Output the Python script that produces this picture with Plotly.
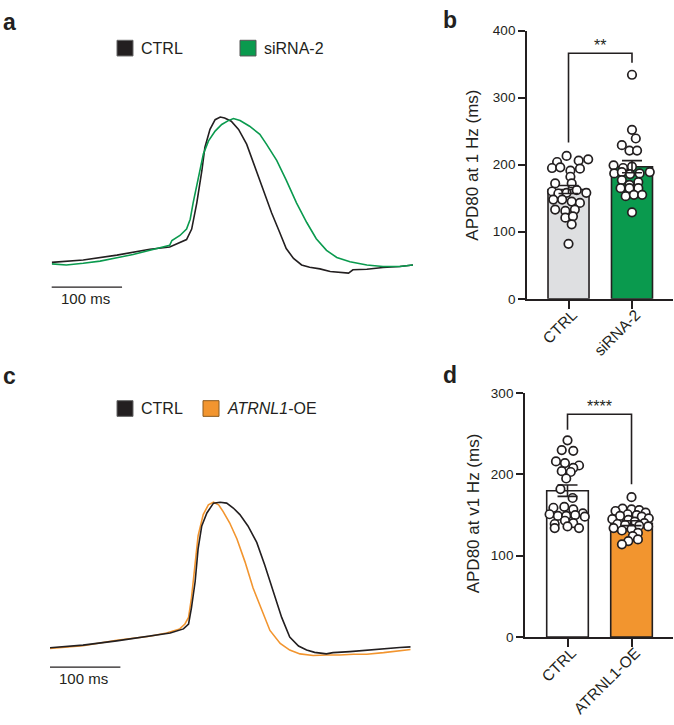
import plotly.graph_objects as go

W, H = 674, 725
FONT = "Liberation Sans, Arial, Helvetica, sans-serif"
BLACK = "#231F20"
GREEN = "#0A9A4E"
ORANGE = "#F2952F"
GRAY = "#DEDFE1"

# ---------------- data ----------------
# Panel a: representative optical AP traces (time in ms, normalized amplitude)
a_ctrl_t = [0, 43, 89, 134, 161, 184, 191, 198, 205, 209, 216, 223, 230, 236, 245, 255, 266, 277, 289, 300,
            311, 320, 330, 341, 352, 366, 380, 393, 405, 411, 430, 452, 475, 493]
a_ctrl_v = [0.069, 0.084, 0.115, 0.153, 0.167, 0.215, 0.282, 0.450, 0.659, 0.805, 0.921, 0.983, 1.0, 0.994,
            0.973, 0.921, 0.826, 0.680, 0.533, 0.387, 0.262, 0.157, 0.094, 0.052, 0.038, 0.027, 0.010, 0.006,
            0.0, 0.021, 0.025, 0.036, 0.042, 0.052]
a_sirna_t = [0, 20, 43, 66, 89, 111, 134, 161, 164, 175, 184, 189, 193, 200, 207, 214, 223, 232, 241, 248,
             257, 270, 284, 293, 307, 320, 334, 348, 361, 375, 389, 407, 430, 452, 475, 493]
a_sirna_v = [0.059, 0.052, 0.063, 0.077, 0.098, 0.119, 0.146, 0.178, 0.209, 0.241, 0.282, 0.345, 0.450, 0.617,
             0.764, 0.847, 0.910, 0.952, 0.977, 0.990, 0.977, 0.941, 0.889, 0.826, 0.722, 0.596, 0.450, 0.324,
             0.220, 0.146, 0.100, 0.073, 0.052, 0.042, 0.042, 0.052]

# Panel c
c_ctrl_t = [0, 45, 91, 136, 164, 182, 189, 193, 198, 202, 207, 214, 223, 232, 241, 250, 259, 270, 282, 293,
            305, 316, 327, 339, 350, 361, 377, 386, 409, 432, 455, 477, 492]
c_ctrl_v = [0.051, 0.068, 0.096, 0.126, 0.147, 0.174, 0.206, 0.313, 0.483, 0.696, 0.845, 0.930, 0.994, 1.0,
            0.994, 0.962, 0.919, 0.845, 0.738, 0.589, 0.419, 0.249, 0.121, 0.062, 0.036, 0.021, 0.011, 0.019,
            0.026, 0.036, 0.045, 0.053, 0.057]
c_oe_t = [0, 45, 91, 114, 136, 159, 177, 184, 189, 193, 198, 202, 209, 216, 223, 230, 236, 245, 255, 266,
          277, 289, 300, 314, 327, 341, 359, 377, 395, 414, 432, 455, 477, 492]
c_oe_v = [0.047, 0.064, 0.100, 0.111, 0.126, 0.147, 0.174, 0.206, 0.249, 0.377, 0.611, 0.781, 0.919, 0.983,
          1.0, 0.983, 0.940, 0.866, 0.760, 0.611, 0.440, 0.291, 0.164, 0.079, 0.036, 0.011, 0.0, 0.004, 0.004,
          0.009, 0.009, 0.019, 0.030, 0.040]
scale_bar_ms = 100

# Panel b: APD80 at 1 Hz (ms)
b_categories = ["CTRL", "siRNA-2"]
b_means = [163, 197]
b_sem = [6, 9]
b_ctrl = [204, 213, 206, 208, 195, 196, 191, 194, 182, 172, 172, 160, 157, 158, 162, 158, 148, 148, 145, 143,
          133, 131, 133, 121, 123, 111, 82]
b_ctrl_jit = [-0.18, -0.03, 0.16, 0.31, -0.26, -0.13, 0.03, 0.18, 0.03, -0.21, 0.05, -0.26, -0.16, -0.03, 0.13,
              0.28, -0.24, -0.10, 0.05, 0.18, -0.21, -0.05, 0.10, -0.05, 0.07, 0.05, 0.0]
b_sirna = [334, 252, 239, 229, 221, 221, 199, 195, 197, 187, 189, 186, 187, 189, 177, 170, 174, 165, 165, 165,
           153, 155, 155, 129]
b_sirna_jit = [0.0, 0.0, 0.06, -0.16, -0.04, 0.08, -0.29, -0.14, 0.0, -0.28, -0.16, -0.03, 0.12, 0.28, -0.16,
               -0.04, 0.10, -0.18, -0.04, 0.10, -0.10, 0.03, 0.16, 0.0]
b_bracket = [233, 366, 366, 352]
b_sig = "**"

# Panel d: APD80 at v1 Hz (ms)
d_categories = ["CTRL", "ATRNL1-OE"]
d_means = [180, 140]
d_sem = [7, 3]
d_ctrl = [242, 230, 229, 216, 214, 211, 208, 204, 203, 195, 182, 171, 160, 157, 152, 159, 151, 149, 149, 150,
          148, 143, 140, 139, 134, 134, 136]
d_ctrl_jit = [0.0, -0.09, 0.09, -0.18, -0.04, 0.18, 0.09, -0.09, 0.05, -0.02, -0.11, 0.08, -0.05, 0.09, 0.24,
              -0.22, -0.28, -0.15, -0.02, 0.12, 0.27, -0.04, 0.09, -0.20, -0.20, 0.18, 0.0]
d_oe = [172, 158, 157, 156, 155, 153, 151, 150, 149, 148, 146, 145, 144, 142, 140, 139, 138, 137, 136, 134,
        133, 131, 128, 124, 120, 118, 114]
d_oe_jit = [0.0, -0.14, 0.0, 0.12, -0.25, 0.22, -0.06, 0.08, -0.18, 0.16, 0.27, -0.30, -0.05, 0.05, 0.20,
            -0.22, -0.10, 0.12, 0.26, -0.28, 0.0, -0.15, 0.10, 0.02, 0.10, -0.05, -0.15]
d_bracket = [255, 274, 274, 188]
d_sig = "****"


# ---------------- helpers ----------------
def xd(p0, p1):
    return [p0 / W, p1 / W]


def yd(top, bottom):
    return [1 - bottom / H, 1 - top / H]


fig = go.Figure()

# ---- trace panels ----
def add_trace_panel(n, t1, v1, c1, t2, v2, c2):
    xa, ya = f"x{n}", f"y{n}"
    fig.add_trace(go.Scatter(x=t1, y=v1, mode="lines", line=dict(color=c1, width=1.6),
                             xaxis=xa, yaxis=ya, showlegend=False, hoverinfo="skip"))
    fig.add_trace(go.Scatter(x=t2, y=v2, mode="lines", line=dict(color=c2, width=1.6),
                             xaxis=xa, yaxis=ya, showlegend=False, hoverinfo="skip"))


add_trace_panel(1, a_ctrl_t, a_ctrl_v, BLACK, a_sirna_t, a_sirna_v, GREEN)
add_trace_panel(3, c_oe_t, c_oe_v, ORANGE, c_ctrl_t, c_ctrl_v, BLACK)


# ---- bar panels ----
def add_bar_panel(n, means, sem, colors, g1, j1, g2, j2, bracket, bar_w):
    xa, ya = f"x{n}", f"y{n}"
    fig.add_trace(go.Bar(x=[0, 1], y=means, width=bar_w, marker=dict(color=colors, line=dict(color=BLACK, width=1.6)),
                         xaxis=xa, yaxis=ya, showlegend=False, hoverinfo="skip"))
    for i, (g, j) in enumerate([(g1, j1), (g2, j2)]):
        fig.add_trace(go.Scatter(x=[i + o for o in j], y=g, mode="markers",
                                 marker=dict(symbol="circle", size=8.5, color="white",
                                             line=dict(color=BLACK, width=1.7)),
                                 xaxis=xa, yaxis=ya, showlegend=False, hoverinfo="skip", cliponaxis=False))
    fig.add_trace(go.Scatter(x=[0, 1], y=means, mode="markers", marker=dict(size=1, opacity=0),
                             error_y=dict(type="data", array=sem, color=BLACK, thickness=1.6, width=10),
                             xaxis=xa, yaxis=ya, showlegend=False, hoverinfo="skip"))
    fig.add_trace(go.Scatter(x=[0, 0, 1, 1], y=bracket, mode="lines", line=dict(color=BLACK, width=1.6),
                             xaxis=xa, yaxis=ya, showlegend=False, hoverinfo="skip", cliponaxis=False))


add_bar_panel(2, b_means, b_sem, [GRAY, GREEN], b_ctrl, b_ctrl_jit, b_sirna, b_sirna_jit, b_bracket, 0.646)
add_bar_panel(4, d_means, d_sem, ["white", ORANGE], d_ctrl, d_ctrl_jit, d_oe, d_oe_jit, d_bracket, 0.65)

hidden = dict(showgrid=False, zeroline=False, showticklabels=False, showline=False, ticks="")
ax_line = dict(showgrid=False, zeroline=False, showline=True, linecolor=BLACK, linewidth=1.8,
               ticks="outside", ticklen=7, tickwidth=1.6, tickcolor=BLACK,
               tickfont=dict(family=FONT, size=13.5, color=BLACK))
cat_axis = {**ax_line, "tickfont": dict(family=FONT, size=15.5, color=BLACK),
            "ticklen": 8, "ticklabelstandoff": -9, "ticklabelshift": 4}

fig.update_layout(
    width=W, height=H, margin=dict(l=0, r=0, t=0, b=0),
    paper_bgcolor="white", plot_bgcolor="rgba(0,0,0,0)",
    font=dict(family=FONT, color=BLACK),
    xaxis1=dict(domain=xd(51.7, 413), range=[0, 493], anchor="y1", **hidden),
    yaxis1=dict(domain=yd(96.4, 303.6), range=[-0.2, 1.1], anchor="x1", **hidden),
    xaxis3=dict(domain=xd(50, 410.7), range=[0, 492], anchor="y3", **hidden),
    yaxis3=dict(domain=yd(490.0, 693.6), range=[-0.2, 1.1], anchor="x3", **hidden),
    xaxis2=dict(domain=xd(527, 673), range=[-0.654, 1.646], anchor="y2",
                tickvals=[0, 1], ticktext=b_categories, tickangle=-45, **cat_axis),
    yaxis2=dict(domain=yd(24, 298), range=[0, 400], anchor="x2", tickvals=[0, 100, 200, 300, 400], **ax_line),
    xaxis4=dict(domain=xd(525, 673), range=[-0.664, 1.648], anchor="y4",
                tickvals=[0, 1], ticktext=d_categories, tickangle=-45, **cat_axis),
    yaxis4=dict(domain=yd(394.3, 643.3), range=[0, 300], anchor="x4", tickvals=[0, 100, 200, 300], **ax_line),
)

ann = []
shapes = []
# panel letters
for txt, x, y in [("a", 1, 15), ("b", 441, 13), ("c", 1, 377), ("d", 441, 376)]:
    ann.append(dict(text=f"<b>{txt}</b>", x=x / W, y=1 - y / H, xref="paper", yref="paper",
                    xanchor="left", yanchor="middle", showarrow=False,
                    font=dict(family=FONT, size=23, color=BLACK)))

# legends (square swatch + label)
def legend_item(x0, yc, color, outline, label):
    shapes.append(dict(type="rect", xref="paper", yref="paper",
                       x0=x0 / W, x1=(x0 + 16) / W, y0=1 - (yc + 8) / H, y1=1 - (yc - 8) / H,
                       fillcolor=color, line=dict(color=outline, width=1)))
    ann.append(dict(text=label, x=(x0 + 22) / W, y=1 - yc / H, xref="paper", yref="paper",
                    xanchor="left", yanchor="middle", showarrow=False,
                    font=dict(family=FONT, size=16, color=BLACK)))


legend_item(117, 42, BLACK, "#666666", "CTRL")
legend_item(240, 42, GREEN, "#555555", "siRNA-2")
legend_item(117, 410, BLACK, "#666666", "CTRL")
legend_item(203, 410, ORANGE, "#8a5a20", "<i>ATRNL1</i>-OE")

# scale bars (100 ms long)
for xa, ya, yv in [("x1", "y1", -0.09), ("x3", "y3", -0.075)]:
    shapes.append(dict(type="line", xref=xa, yref=ya, x0=-4, x1=scale_bar_ms - 4, y0=yv, y1=yv,
                       line=dict(color=BLACK, width=1.3)))
    ann.append(dict(text=f"{scale_bar_ms} ms", x=scale_bar_ms / 2 - 4, y=yv, xref=xa, yref=ya,
                    xanchor="center", yanchor="top", yshift=-1, showarrow=False,
                    font=dict(family=FONT, size=15, color=BLACK)))

# axis titles
ann.append(dict(text="APD80 at 1 Hz (ms)", x=473 / W, y=1 - 162 / H, xref="paper", yref="paper",
                textangle=-90, showarrow=False, xanchor="center", yanchor="middle",
                font=dict(family=FONT, size=17, color=BLACK)))
ann.append(dict(text="APD80 at v1 Hz (ms)", x=473 / W, y=1 - 517 / H, xref="paper", yref="paper",
                textangle=-90, showarrow=False, xanchor="center", yanchor="middle",
                font=dict(family=FONT, size=17, color=BLACK)))

# significance stars
ann.append(dict(text=b_sig, x=0.5, y=b_bracket[1], xref="x2", yref="y2", showarrow=False,
                xanchor="center", yanchor="bottom", yshift=-3, font=dict(family=FONT, size=16, color=BLACK)))
ann.append(dict(text=d_sig, x=0.5, y=d_bracket[1], xref="x4", yref="y4", showarrow=False,
                xanchor="center", yanchor="bottom", yshift=-3, font=dict(family=FONT, size=16, color=BLACK)))

fig.update_layout(annotations=ann, shapes=shapes)
fig.write_html("out.html", config={"displayModeBar": False},
               post_script="document.body.style.margin='0';document.body.style.padding='0';"
                           "document.body.style.overflow='hidden';")
